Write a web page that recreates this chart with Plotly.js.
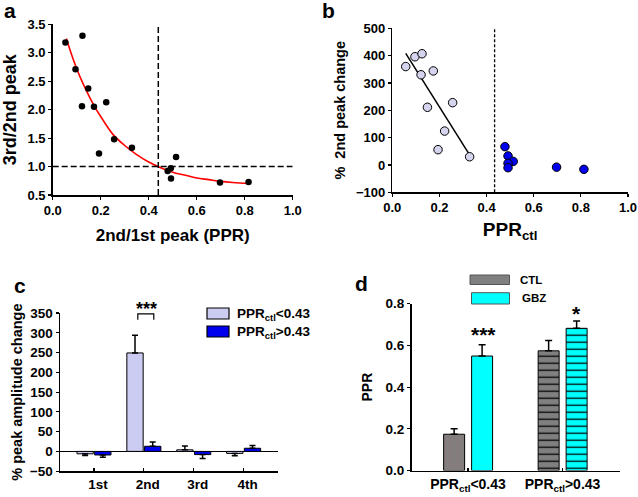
<!DOCTYPE html>
<html>
<head>
<meta charset="utf-8">
<script src="https://cdn.plot.ly/plotly-3.0.1.min.js"></script>
<style>html,body{margin:0;padding:0;background:#fff;}#chart{width:638px;height:497px;}</style>
</head>
<body>
<div id="chart"></div>
<script>
// ---------- Panel a data ----------
const aPPR   = [0.053, 0.124, 0.095, 0.148, 0.122, 0.172, 0.223, 0.256, 0.193, 0.330, 0.479, 0.492, 0.493, 0.514, 0.697, 0.816];
const aRatio = [3.18, 3.30, 2.71, 2.37, 2.06, 2.05, 2.13, 1.48, 1.23, 1.33, 0.92, 0.97, 0.79, 1.17, 0.72, 0.73];
// fitted curve
const aFitX = [0.057, 0.08, 0.10, 0.125, 0.15, 0.175, 0.20, 0.25, 0.30, 0.35, 0.40, 0.45, 0.50, 0.55, 0.60, 0.65, 0.70, 0.75, 0.82];
const aFitY = [3.25, 2.95, 2.72, 2.47, 2.25, 2.05, 1.88, 1.57, 1.37, 1.21, 1.08, 0.98, 0.90, 0.85, 0.80, 0.77, 0.74, 0.72, 0.70];
const pprThreshold = 0.44;

// ---------- Panel b data ----------
const bLowX  = [0.057, 0.096, 0.126, 0.122, 0.174, 0.149, 0.256, 0.222, 0.194, 0.328];
const bLowY  = [360, 396, 407, 330, 344, 211, 228, 124, 56, 30];
const bHighX = [0.478, 0.491, 0.513, 0.491, 0.491, 0.697, 0.813];
const bHighY = [67, 33, 13, 6, -10, -8, -16];
const bFitX  = [0.057, 0.328];
const bFitY  = [408, 37];
const bThreshold = 0.434;

// ---------- Panel c data ----------
const cCategories = ['1st', '2nd', '3rd', '4th'];
const cLow      = [-6, 249, 4, -5];
const cLowErr   = [4, 45, 10, 6];
const cHigh     = [-9, 13, -8, 8];
const cHighErr  = [6, 11, 10, 7];

// ---------- Panel d data ----------
const dCategories = ['PPR<sub>ctl</sub>&lt;0.43', 'PPR<sub>ctl</sub>>0.43'];
const dCTL     = [0.174, 0.574];
const dCTLErr  = [0.026, 0.050];
const dGBZ     = [0.549, 0.682];
const dGBZErr  = [0.054, 0.035];

// ---------- helpers ----------
const W = 638, H = 497;
const px = x => x / W;
const py = y => 1 - y / H;
const FONT = 'Liberation Sans, Arial, sans-serif';
const f = (size, color) => ({family: FONT, size: size, color: color || '#000', weight: 'bold'});
const upErr = (vals, errs) => vals.map((v, i) => v >= 0 ? errs[i] : 0);
const dnErr = (vals, errs) => vals.map((v, i) => v < 0 ? errs[i] : 0);
const note = (text, x, y, size, xanchor) => ({text: text, xref: 'paper', yref: 'paper', x: px(x), y: py(y),
  xanchor: xanchor || 'center', yanchor: 'middle', showarrow: false, font: f(size)});

const LIGHT = '#ccccf2';
const BLUE = '#0000ee';

const traces = [
  // a
  {type: 'scatter', mode: 'lines', x: aFitX, y: aFitY, xaxis: 'x', yaxis: 'y',
   line: {color: '#ff0000', width: 1.6, shape: 'spline'}, hoverinfo: 'skip'},
  {type: 'scatter', mode: 'markers', x: aPPR, y: aRatio, xaxis: 'x', yaxis: 'y',
   marker: {color: '#000', size: 6.5}},
  // b
  {type: 'scatter', mode: 'lines', x: bFitX, y: bFitY, xaxis: 'x2', yaxis: 'y2',
   line: {color: '#000', width: 1.5}},
  {type: 'scatter', mode: 'markers', x: bLowX, y: bLowY, xaxis: 'x2', yaxis: 'y2',
   marker: {color: '#d4d4ee', size: 8.5, line: {color: '#000', width: 1}}},
  {type: 'scatter', mode: 'markers', x: bHighX, y: bHighY, xaxis: 'x2', yaxis: 'y2',
   marker: {color: BLUE, size: 8.5, line: {color: '#000', width: 1}}},
  // c
  {type: 'bar', x: cCategories, y: cLow, xaxis: 'x3', yaxis: 'y3', width: 0.327, offset: -0.34,
   marker: {color: LIGHT, line: {color: '#000', width: 1}},
   error_y: {type: 'data', symmetric: false, array: upErr(cLow, cLowErr), arrayminus: dnErr(cLow, cLowErr),
             color: '#000', thickness: 1.5, width: 3}},
  {type: 'bar', x: cCategories, y: cHigh, xaxis: 'x3', yaxis: 'y3', width: 0.327, offset: 0.015,
   marker: {color: BLUE, line: {color: '#000', width: 1}},
   error_y: {type: 'data', symmetric: false, array: upErr(cHigh, cHighErr), arrayminus: dnErr(cHigh, cHighErr),
             color: '#000', thickness: 1.5, width: 3}},
  // d
  {type: 'bar', x: dCategories, y: dCTL, xaxis: 'x4', yaxis: 'y4', width: 0.222, offset: -0.258,
   marker: {color: '#808080', line: {color: '#000', width: 1},
            pattern: {shape: ['.', '-'], fillmode: 'replace', bgcolor: '#808080',
                      fgcolor: ['#b06060', '#000000'], size: [4, 7], solidity: [0.08, 0.18]}},
   error_y: {type: 'data', symmetric: false, array: dCTLErr, arrayminus: [0, 0],
             color: '#000', thickness: 1.5, width: 3.5}},
  {type: 'bar', x: dCategories, y: dGBZ, xaxis: 'x4', yaxis: 'y4', width: 0.222, offset: 0.038,
   marker: {color: '#00ffff', line: {color: '#000', width: 1},
            pattern: {shape: ['', '-'], fillmode: 'replace', bgcolor: '#00ffff',
                      fgcolor: '#000000', size: 7, solidity: 0.18}},
   error_y: {type: 'data', symmetric: false, array: dGBZErr, arrayminus: [0, 0],
             color: '#000', thickness: 1.5, width: 3.5}}
];

const baseAxis = {showgrid: false, zeroline: false, showline: true, linecolor: '#000', linewidth: 1.5,
                  ticks: 'outside', ticklen: 3, tickwidth: 1.2, tickcolor: '#000', fixedrange: true};

const layout = {
  width: W, height: H,
  margin: {l: 0, r: 0, t: 0, b: 0, pad: 0},
  paper_bgcolor: '#fff', plot_bgcolor: 'rgba(0,0,0,0)',
  showlegend: false,
  font: f(12),
  // a
  xaxis: Object.assign({}, baseAxis, {domain: [px(52.7), px(292.7)], anchor: 'y', range: [0, 1.0], dtick: 0.2,
          tickformat: '.1f', tickfont: f(13), automargin: false,
          title: {text: '2nd/1st peak (PPR)', font: f(17), standoff: 12}}),
  yaxis: Object.assign({}, baseAxis, {domain: [py(195), py(24.3)], anchor: 'x', range: [0.5, 3.5], dtick: 0.5,
          tickformat: '.1f', tickfont: f(13), automargin: false,
          title: {text: '3rd/2nd peak', font: f(18), standoff: 10}}),
  // b
  xaxis2: Object.assign({}, baseAxis, {domain: [px(392.3), px(628)], anchor: 'y2', range: [0, 1.0], dtick: 0.2,
          tickformat: '.1f', tickfont: f(13), automargin: false,
          title: {text: 'PPR<sub>ctl</sub>', font: f(19), standoff: 8}}),
  yaxis2: Object.assign({}, baseAxis, {domain: [py(192.3), py(28.3)], anchor: 'x2', range: [-100, 500], dtick: 100,
          tickfont: f(13), automargin: false,
          title: {text: '%  2nd peak change', font: f(14.5), standoff: 7}}),
  // c
  xaxis3: Object.assign({}, baseAxis, {domain: [px(60), px(278)], anchor: 'y3', type: 'category',
          range: [-0.68, 3.69], ticks: 'inside', ticklen: 3, tickfont: f(13.5), ticklabelshift: 4, automargin: false}),
  yaxis3: Object.assign({}, baseAxis, {domain: [py(471.2), py(313)], anchor: 'x3', range: [-50, 350], dtick: 50,
          zeroline: true, zerolinecolor: '#000', zerolinewidth: 1.5,
          tickfont: f(13.5), automargin: false,
          title: {text: '% peak amplitude change', font: f(14.5), standoff: 4}}),
  // d
  xaxis4: Object.assign({}, baseAxis, {domain: [px(411.5), px(620)], anchor: 'y4', type: 'category',
          range: [-0.598, 1.608], ticks: 'inside', ticklen: 3, tickfont: f(14), automargin: false}),
  yaxis4: Object.assign({}, baseAxis, {domain: [py(470.5), py(303.7)], anchor: 'x4', range: [0, 0.8], dtick: 0.2,
          tickformat: '.1f', tickfont: f(13.5), automargin: false,
          title: {text: 'PPR', font: f(14), standoff: 9}}),
  shapes: [
    // a dashed reference lines
    {type: 'line', xref: 'x', yref: 'y', x0: pprThreshold, x1: pprThreshold, y0: 0.5, y1: 3.5,
     line: {color: '#000', width: 1.5, dash: '6px,3px'}},
    {type: 'line', xref: 'x', yref: 'y', x0: 0, x1: 1.0, y0: 1.0, y1: 1.0,
     line: {color: '#000', width: 1.5, dash: '6px,3px'}},
    // b dashed threshold
    {type: 'line', xref: 'x2', yref: 'y2', x0: bThreshold, x1: bThreshold, y0: -100, y1: 500,
     line: {color: '#000', width: 1.3, dash: '3px,2px'}},
    // c significance bracket
    {type: 'path', xref: 'x3', yref: 'y3', path: 'M 0.88 333 L 0.88 348 L 1.2 348 L 1.2 333',
     line: {color: '#000', width: 1.2}},
    // c legend keys
    {type: 'rect', xref: 'paper', yref: 'paper', x0: px(207), x1: px(229), y0: py(319), y1: py(308),
     fillcolor: LIGHT, line: {color: '#000', width: 1.2}},
    {type: 'rect', xref: 'paper', yref: 'paper', x0: px(207), x1: px(229), y0: py(337), y1: py(326),
     fillcolor: BLUE, line: {color: '#000', width: 1.2}},
    // d legend keys
    {type: 'rect', xref: 'paper', yref: 'paper', x0: px(470), x1: px(509.5), y0: py(284.5), y1: py(275),
     fillcolor: '#808080', line: {color: '#555', width: 1}},
    {type: 'rect', xref: 'paper', yref: 'paper', x0: px(471.5), x1: px(509.5), y0: py(304), y1: py(292.7),
     fillcolor: '#00ffff', line: {color: '#555', width: 1}}
  ],
  annotations: [
    note('a', 10, 10, 21),
    note('b', 328, 10, 21),
    note('c', 20, 285, 21),
    note('d', 361, 283, 21),
    note('***', 146, 309, 18),
    note('***', 483, 334, 21),
    note('*', 576.5, 313, 21),
    note('PPR<sub>ctl</sub>&lt;0.43', 235, 314, 13.5, 'left'),
    note('PPR<sub>ctl</sub>>0.43', 235, 332, 13.5, 'left'),
    note('CTL', 518, 279.7, 11.5, 'left'),
    note('GBZ', 520, 298, 11.5, 'left')
  ]
};

Plotly.newPlot('chart', traces, layout, {staticPlot: true, displayModeBar: false});
</script>
</body>
</html>
